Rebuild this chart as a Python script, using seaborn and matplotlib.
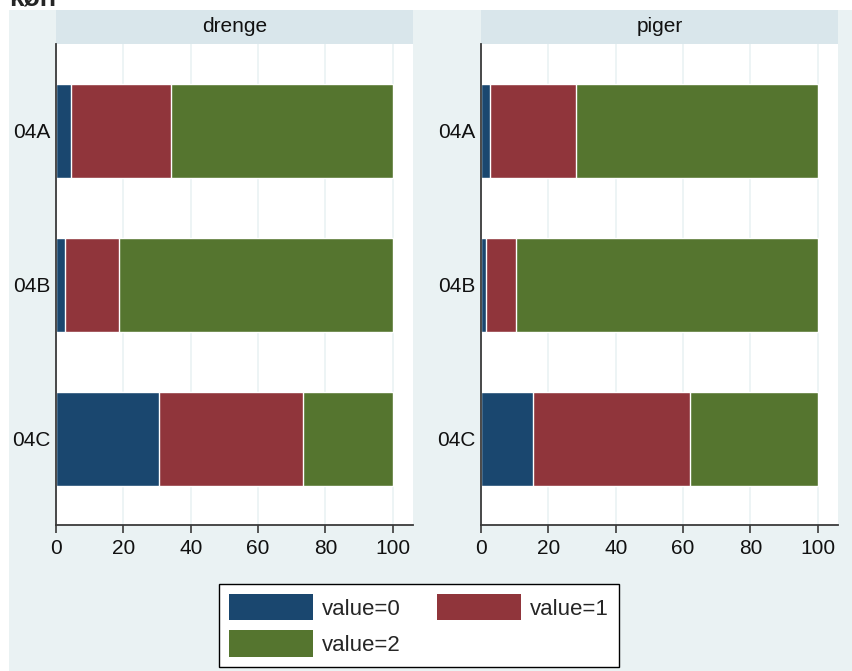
import numpy as np
import pandas as pd
import matplotlib
matplotlib.use('Agg')
import matplotlib.pyplot as plt
from matplotlib.patches import Rectangle, Patch
import seaborn as sns

# Data (percent shares per class)
GROUPS = ['04A', '04B', '04C']
PANELS = ['drenge', 'piger']
drenge_v0 = [4.5, 2.7, 30.6]
drenge_v1 = [29.6, 16.1, 42.7]
drenge_v2 = [65.9, 81.2, 26.7]
piger_v0 = [2.6, 1.4, 15.5]
piger_v1 = [25.6, 9.0, 46.7]
piger_v2 = [71.8, 89.6, 37.8]
LABELS = ['value=0', 'value=1', 'value=2']
XTICKS = [0, 20, 40, 60, 80, 100]

COLORS = ['#1a476f', '#90353b', '#55752f']
BG = '#eaf2f3'
STRIP = '#d9e6eb'
AXCOL = '#3a3a3a'

sns.set_style('white')
plt.rcParams['font.family'] = ['Liberation Sans', 'DejaVu Sans']

W, H = 853, 671
fig = plt.figure(figsize=(W / 100, H / 100), dpi=100)
fig.patch.set_facecolor('white')
fig.add_artist(Rectangle((9 / W, 0), 1, 1 - 10 / H, transform=fig.transFigure,
                         facecolor=BG, edgecolor='none', zorder=-1))

panel_data = {
    'drenge': [drenge_v0, drenge_v1, drenge_v2],
    'piger': [piger_v0, piger_v1, piger_v2],
}
lefts = [56, 481]
ax_w, ax_h = 357 / W, 481 / H
ax_b = (H - 525) / H

for left, panel in zip(lefts, PANELS):
    ax = fig.add_axes([left / W, ax_b, ax_w, ax_h])
    ax.set_facecolor('white')
    vals = np.array(panel_data[panel])
    cum = np.cumsum(vals, axis=0)
    # draw from the largest cumulative down so segments stack
    for k in [2, 1, 0]:
        df = pd.DataFrame({'grp': GROUPS, 'val': cum[k]})
        sns.barplot(data=df, x='val', y='grp', orient='h', color=COLORS[k],
                    saturation=1, width=0.61, ax=ax, zorder=2)
    ax.set_xlim(0, 106)
    ax.set_ylim(2.56, -0.565)
    ax.set_xticks(XTICKS)
    ax.set_xticklabels([str(t) for t in XTICKS])
    ax.set_xlabel('')
    ax.set_ylabel('')
    ax.xaxis.grid(True, color=BG, linewidth=1.2, zorder=0)
    ax.yaxis.grid(False)
    ax.set_axisbelow(True)
    for s in ['top', 'right']:
        ax.spines[s].set_visible(False)
    for s in ['left', 'bottom']:
        ax.spines[s].set_color(AXCOL)
        ax.spines[s].set_linewidth(1.3)
    ax.tick_params(axis='x', length=6, width=1.2, color=AXCOL, pad=4,
                   labelsize=15, labelcolor='#111111', direction='out', bottom=True)
    ax.tick_params(axis='y', length=0, pad=4, labelsize=15, labelcolor='#111111')
    # facet strip
    ax.add_patch(Rectangle((0, 1), 1, 34 / 481, transform=ax.transAxes,
                           facecolor=STRIP, edgecolor='none', clip_on=False))
    ax.text(0.5, 1 + 17 / 481, panel, transform=ax.transAxes, ha='center',
            va='center', fontsize=15, color='#111111')

fig.text(9 / W, 1 - 6 / H, 'køn', ha='left', va='baseline', fontsize=19,
         fontweight='bold')

# order so that the 2-column legend fills row by row
order = [0, 2, 1]
handles = [Patch(facecolor=COLORS[i], edgecolor='none') for i in order]
leg = fig.legend(handles, [LABELS[i] for i in order], ncol=2, loc='upper left',
                 bbox_to_anchor=(219 / W, 1 - 584 / H), borderaxespad=0,
                 frameon=True, fancybox=False, edgecolor='black',
                 facecolor='white', framealpha=1, handlelength=3.8,
                 handleheight=1.45, handletextpad=0.4, columnspacing=1.6,
                 labelspacing=0.45, borderpad=0.45, fontsize=16)
leg.get_frame().set_linewidth(1.0)

fig.savefig('out.png', dpi=100)
